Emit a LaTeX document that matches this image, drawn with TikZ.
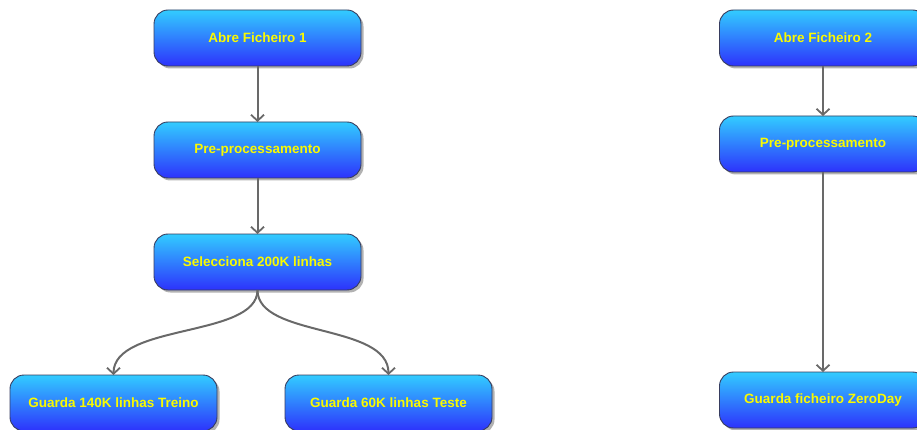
\documentclass[tikz,border=0pt]{standalone}
\usepackage{fontspec}
\setmainfont{Liberation Sans}
\usetikzlibrary{arrows.meta,shadows}
\definecolor{boxtop}{RGB}{50,204,255}
\definecolor{boxbottom}{RGB}{45,50,252}
\definecolor{boxline}{RGB}{55,60,95}
\definecolor{boxtext}{RGB}{250,250,0}
\definecolor{linkgray}{RGB}{105,105,105}
\tikzset{
  stepbox/.style={
    rectangle, rounded corners=14pt,
    minimum width=207pt, minimum height=56pt, outer sep=0pt,
    top color=boxtop, bottom color=boxbottom,
    draw=boxline, line width=0.9pt,
    drop shadow={shadow xshift=2.5pt, shadow yshift=-2.5pt, opacity=0.5, fill=black!60},
    text=boxtext, font=\fontsize{13.5}{16}\selectfont\bfseries
  },
  link/.style={
    draw=linkgray, line width=2pt,
    -{Straight Barb[length=6pt,width=13pt,line width=1.8pt]}
  }
}
\begin{document}
\begin{tikzpicture}[x=1pt,y=-1pt]
  \useasboundingbox (0,0) rectangle (917,430);

  % first file: training and test split
  \node[stepbox] (abre1) at (257.5,38) {Abre Ficheiro 1};
  \node[stepbox] (pre1)  at (257.5,150) {Pre-processamento};
  \node[stepbox] (sel)   at (257.5,262) {Selecciona 200K linhas};
  \node[stepbox] (treino) at (113.5,403) {Guarda 140K linhas Treino};
  \node[stepbox] (teste)  at (388.5,403) {Guarda 60K linhas Teste};

  % second file: zero-day set
  \node[stepbox] (abre2) at (823,38) {Abre Ficheiro 2};
  \node[stepbox] (pre2)  at (823,144) {Pre-processamento};
  \node[stepbox] (zero)  at (823,400) {Guarda ficheiro ZeroDay};

  \draw[link] (abre1.south) -- (pre1.north);
  \draw[link] (pre1.south) -- (sel.north);
  \draw[link] (sel.south) .. controls +(0,48) and +(0,-52) .. (treino.north);
  \draw[link] (sel.south) .. controls +(0,48) and +(0,-52) .. (teste.north);

  \draw[link] (abre2.south) -- (pre2.north);
  \draw[link] (pre2.south) -- (zero.north);
\end{tikzpicture}
\end{document}
